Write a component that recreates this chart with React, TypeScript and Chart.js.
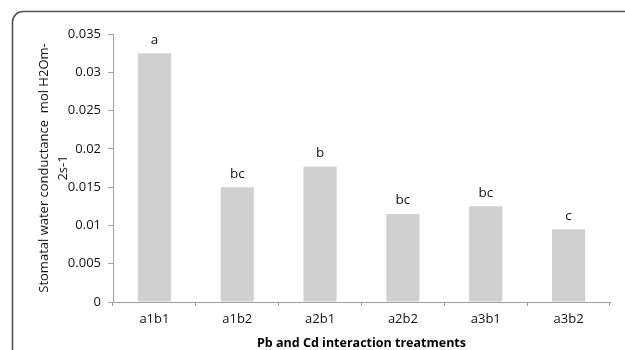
import React, { useEffect, useRef } from "react";
import { Chart, registerables } from "chart.js";

Chart.register(...registerables);

const categories = ["a1b1", "a1b2", "a2b1", "a2b2", "a3b1", "a3b2"];
const conductance = [0.0325, 0.015, 0.0177, 0.0115, 0.0125, 0.0095];
const letters = ["a", "bc", "b", "bc", "bc", "c"];
const yTickLabels = ["0", "0.005", "0.01", "0.015", "0.02", "0.025", "0.03", "0.035"];
const yTitle = ["Stomatal water conductance  mol H2Om-", "2s-1"];
const xTitle = "Pb and Cd interaction treatments";

const FONT = "'Open Sans', 'Noto Sans', sans-serif";

const framePlugin = {
  id: "frame",
  afterDraw(chart: any) {
    const ctx = chart.ctx;
    ctx.save();
    ctx.strokeStyle = "#555555";
    ctx.lineWidth = 1.6;
    ctx.beginPath();
    ctx.moveTo(12.5, 352);
    ctx.lineTo(12.5, 22);
    ctx.arcTo(12.5, 11.5, 23, 11.5, 10.5);
    ctx.lineTo(627, 11.5);
    ctx.stroke();
    ctx.restore();
  },
};

const letterPlugin = {
  id: "letters",
  afterDatasetsDraw(chart: any) {
    const ctx = chart.ctx;
    const meta = chart.getDatasetMeta(0);
    ctx.save();
    ctx.font = `13.5px ${FONT}`;
    ctx.fillStyle = "#111111";
    ctx.textAlign = "center";
    ctx.textBaseline = "alphabetic";
    meta.data.forEach((bar: any, i: number) => {
      ctx.fillText(letters[i], bar.x, bar.y - 9.5);
    });
    ctx.restore();
  },
};

export default function App() {
  const ref = useRef<HTMLCanvasElement>(null);
  useEffect(() => {
    document.body.style.margin = "0";
    const chart = new Chart(ref.current!, {
      type: "bar",
      data: {
        labels: categories,
        datasets: [
          {
            data: conductance,
            backgroundColor: "#d0d0d0",
            borderWidth: 0,
            barPercentage: 0.4,
            categoryPercentage: 1,
          },
        ],
      },
      options: {
        animation: false,
        responsive: true,
        maintainAspectRatio: false,
        devicePixelRatio: 1,
        layout: { padding: { left: 0, right: 15, top: 34, bottom: 0 } },
        plugins: { legend: { display: false }, tooltip: { enabled: false } },
        scales: {
          x: {
            afterFit: (s: any) => {
              s.height = 48;
            },
            grid: {
              offset: true,
              drawOnChartArea: false,
              drawTicks: true,
              tickLength: 4,
              color: "#a0a0a0",
            },
            border: { color: "#a0a0a0", width: 1 },
            ticks: {
              font: { family: FONT, size: 13 },
              color: "#111111",
              padding: 5,
              maxRotation: 0,
            },
            title: {
              display: true,
              text: xTitle,
              font: { family: FONT, size: 12.5, weight: "bold", lineHeight: 1 },
              color: "#000000",
              padding: { top: 0, bottom: 0 },
            },
          },
          y: {
            min: 0,
            max: 0.035,
            afterFit: (s: any) => {
              s.width = 113;
            },
            grid: {
              drawOnChartArea: false,
              drawTicks: true,
              tickLength: 5,
              color: "#a0a0a0",
            },
            border: { color: "#a0a0a0", width: 1 },
            ticks: {
              stepSize: 0.005,
              font: { family: FONT, size: 13 },
              color: "#111111",
              padding: 7,
              callback: (_v: any, i: number) => yTickLabels[i],
            },
            title: {
              display: true,
              text: yTitle,
              font: { family: FONT, size: 13, lineHeight: "19px" },
              color: "#111111",
              padding: { top: 35, bottom: 0 },
            },
          },
        },
      },
      plugins: [framePlugin, letterPlugin],
    });
    return () => chart.destroy();
  }, []);
  return (
    <div style={{ width: 625, height: 350, position: "relative", background: "#fff" }}>
      <canvas ref={ref} />
    </div>
  );
}
